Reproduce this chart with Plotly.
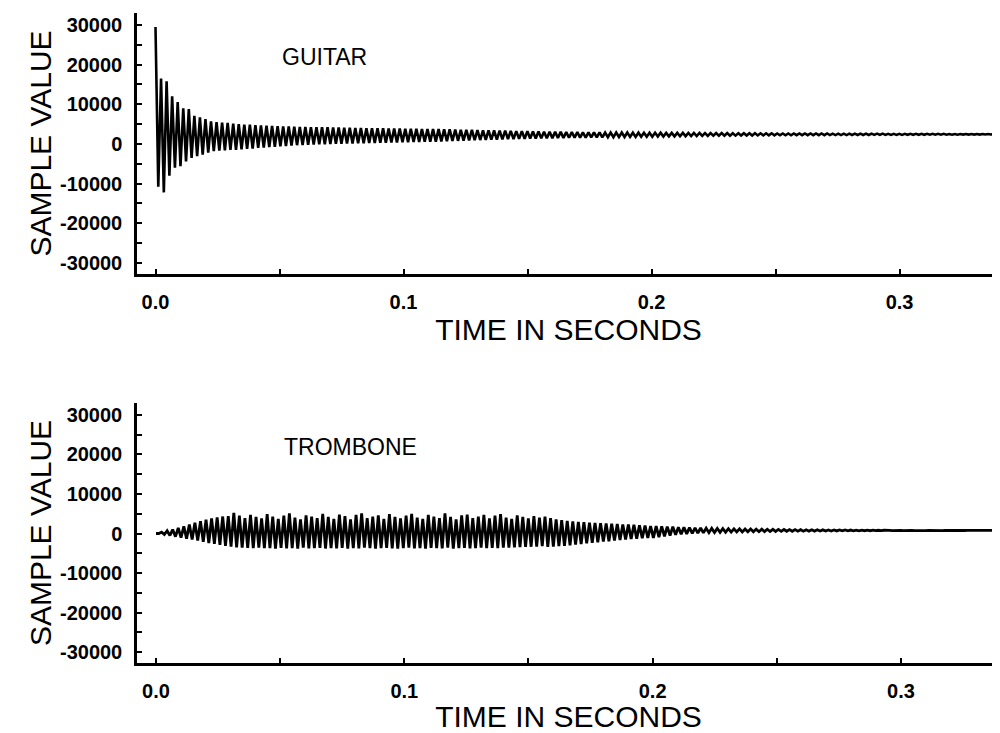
import plotly.graph_objects as go

# ---------------- data ----------------
cycle_period = 0.002238          # seconds per oscillation cycle
guitar_start = 0.0
trombone_start = 0.0

guitar_peaks = [
    29500, 16500, 15800, 12000, 10600, 9000, 8800, 7100, 6700, 6300,
    5700, 5500, 5400, 5300, 5100, 5000, 4900, 4850, 4750, 4700,
    4600, 4550, 4500, 4450, 4400, 4350, 4300, 4300, 4250, 4250,
    4200, 4200, 4150, 4150, 4100, 4100, 4050, 4050, 4000, 3950,
    3950, 3950, 3900, 3900, 3900, 3850, 3850, 3850, 3800, 3800,
    3800, 3750, 3700, 3700, 3650, 3600, 3600, 3550, 3500, 3450,
    3450, 3400, 3350, 3350, 3300, 3250, 3250, 3200, 3150, 3150,
    3100, 3100, 3050, 3050, 3000, 3000, 3000, 2950, 2950, 2950,
    2950, 2900, 2900, 2900, 2900, 2900, 2850, 2850, 2850, 2850,
    2850, 2850, 2800, 2800, 2800, 2800, 2800, 2800, 2800, 2750,
    2750, 2750, 2750, 2750, 2700, 2700, 2700, 2700, 2700, 2700,
    2700, 2700, 2650, 2650, 2650, 2650, 2650, 2650, 2650, 2650,
    2650, 2650, 2600, 2600, 2600, 2600, 2600, 2600, 2600, 2600,
    2600, 2600, 2550, 2550, 2550, 2550, 2550, 2550, 2550, 2550,
    2550, 2550, 2550, 2500, 2500, 2500, 2500, 2500, 2500, 2500,
    2500, 2500,
]
guitar_troughs = [
    -10800, -12200, -8000, -6000, -5600, -4400, -3500, -3100, -2700, -2200,
    -1800, -1700, -1600, -1500, -1450, -1350, -1250, -1150, -1000, -900,
    -800, -700, -600, -500, -400, -300, -250, -200, -150, -100,
    -50, 0, 30, 60, 100, 130, 170, 200, 230, 270,
    300, 330, 360, 390, 420, 450, 480, 510, 540, 570,
    600, 650, 700, 750, 800, 850, 900, 950, 1000, 1050,
    1090, 1130, 1170, 1210, 1250, 1290, 1330, 1370, 1400, 1430,
    1450, 1480, 1510, 1540, 1570, 1590, 1610, 1630, 1650, 1670,
    1690, 1710, 1730, 1750, 1770, 1790, 1800, 1820, 1840, 1850,
    1870, 1890, 1910, 1930, 1950, 1970, 1990, 2010, 2030, 2050,
    2070, 2080, 2090, 2100, 2110, 2120, 2130, 2140, 2150, 2160,
    2170, 2180, 2190, 2200, 2200, 2210, 2210, 2220, 2220, 2230,
    2230, 2240, 2240, 2250, 2250, 2260, 2260, 2270, 2270, 2280,
    2280, 2290, 2290, 2300, 2300, 2310, 2310, 2320, 2320, 2330,
    2330, 2340, 2340, 2350, 2350, 2360, 2360, 2370, 2370, 2380,
    2380, 2390,
]

trombone_peaks = [
    0, 350, 700, 1000, 1400, 1800, 2300, 2700, 3100, 3500,
    3800, 4100, 4300, 4400, 5200, 4500, 3900, 4700, 4200, 3800,
    4900, 4300, 3700, 4500, 5100, 4000, 3600, 4600, 4300, 3900,
    5000, 4200, 3700, 4800, 4400, 3600, 4700, 5100, 3900, 4300,
    4600, 3700, 4900, 4200, 3800, 4500, 5000, 4000, 3700, 4700,
    4300, 3900, 5100, 4200, 3600, 4600, 4800, 3900, 4300, 4700,
    3800, 4500, 4900, 4000, 3700, 4600, 4200, 3800, 4400, 4000,
    4300, 3900, 3600, 3400, 3200, 3050, 2950, 2850, 2750, 2650,
    2600, 2550, 2450, 2400, 2300, 2250, 2200, 2100, 2000, 1900,
    1850, 1800, 1750, 1700, 1600, 1550, 1500, 1450, 1400, 1350,
    1300, 1270, 1240, 1210, 1190, 1170, 1150, 1130, 1110, 1090,
    1070, 1050, 1030, 1010, 1000, 980, 960, 950, 940, 930,
    920, 910, 900, 890, 880, 870, 860, 850, 840, 830,
    820, 820, 810, 810, 800, 800, 800, 790, 790, 790,
    790, 790, 790, 790, 790, 790, 790, 790, 790, 790,
    790, 790,
]
trombone_troughs = [
    0, -250, -500, -800, -1050, -1300, -1500, -1800, -2100, -2400,
    -2600, -2850, -3100, -3300, -3500, -3600, -3650, -3700, -3600, -3700,
    -3700, -3800, -3650, -3750, -3700, -3800, -3600, -3750, -3700, -3650,
    -3800, -3700, -3750, -3650, -3800, -3700, -3750, -3600, -3700, -3800,
    -3700, -3650, -3750, -3800, -3700, -3600, -3750, -3700, -3800, -3650,
    -3700, -3750, -3600, -3800, -3700, -3650, -3750, -3700, -3600, -3700,
    -3650, -3700, -3600, -3550, -3500, -3450, -3400, -3350, -3300, -3200,
    -3400, -3300, -3200, -3100, -3000, -2800, -2650, -2500, -2350, -2200,
    -2050, -1950, -1800, -1650, -1500, -1400, -1300, -1200, -1150, -1100,
    -900, -700, -500, -300, -200, -100, 0, 80, 150, 200,
    240, 280, 320, 350, 380, 400, 420, 440, 460, 480,
    500, 520, 540, 560, 570, 580, 590, 600, 610, 620,
    630, 640, 650, 660, 670, 680, 690, 700, 700, 710,
    710, 720, 720, 730, 730, 740, 740, 740, 750, 750,
    750, 750, 760, 760, 760, 760, 770, 770, 770, 770,
    780, 780,
]

x_tick_vals = [0.0, 0.05, 0.1, 0.15, 0.2, 0.25, 0.3]
x_tick_text = ["0.0", "", "0.1", "", "0.2", "", "0.3"]
y_tick_vals = [30000, 25000, 20000, 15000, 10000, 5000, 0,
               -5000, -10000, -15000, -20000, -25000, -30000]
y_tick_text = ["30000", "", "20000", "", "10000", "", "0",
               "", "-10000", "", "-20000", "", "-30000"]

panel_labels = ["GUITAR", "TROMBONE"]
x_title = "TIME IN SECONDS"
y_title = "SAMPLE VALUE"


def waveform(start, peaks, troughs):
    t, v = [], []
    for k, (p, q) in enumerate(zip(peaks, troughs)):
        t += [start + k * cycle_period, start + (k + 0.5) * cycle_period]
        v += [p, q]
    return t, v


FONT = "Liberation Sans, Arial, Helvetica, sans-serif"

fig = go.Figure()
gt, gv = waveform(guitar_start, guitar_peaks, guitar_troughs)
tt, tv = waveform(trombone_start, trombone_peaks, trombone_troughs)
fig.add_trace(go.Scatter(x=gt, y=gv, mode="lines", line=dict(color="black", width=2.6),
                         xaxis="x", yaxis="y", hoverinfo="skip"))
fig.add_trace(go.Scatter(x=tt, y=tv, mode="lines", line=dict(color="black", width=2.8),
                         xaxis="x2", yaxis="y2", hoverinfo="skip"))


def xaxis_cfg(rng, anchor):
    return dict(
        domain=[0, 1], anchor=anchor, range=rng,
        showline=True, linecolor="black", linewidth=2.5,
        ticks="inside", ticklen=5, tickwidth=1.5, tickcolor="black",
        tickmode="array", tickvals=x_tick_vals, ticktext=x_tick_text,
        tickfont=dict(family=FONT, size=20, color="black", weight="bold"),
        ticklabelstandoff=8,
        showgrid=False, zeroline=False,
        title=dict(text=x_title, font=dict(family=FONT, size=30, color="black"), standoff=2),
    )


def yaxis_cfg(domain, anchor):
    return dict(
        domain=domain, anchor=anchor, range=[-32773, 33025],
        showline=True, linecolor="black", linewidth=2.5,
        ticks="inside", ticklen=5, tickwidth=1.5, tickcolor="black",
        tickmode="array", tickvals=y_tick_vals, ticktext=y_tick_text,
        tickfont=dict(family=FONT, size=20, color="black", weight="bold"),
        ticklabelstandoff=8,
        showgrid=False, zeroline=False,
        title=dict(text=y_title, font=dict(family=FONT, size=30, color="black"), standoff=0),
    )


fig.update_layout(
    width=992, height=725,
    margin=dict(l=129, r=0, t=5, b=70, autoexpand=False),
    paper_bgcolor="white", plot_bgcolor="white",
    showlegend=False,
    xaxis=xaxis_cfg([-0.00746, 0.3405], "y"),
    yaxis=yaxis_cfg([0.5985, 1.0], "x"),
    xaxis2=xaxis_cfg([-0.00766, 0.3399], "y2"),
    yaxis2=yaxis_cfg([0.0, 0.4], "x2"),
    annotations=[
        dict(text=panel_labels[0], x=0.0502, y=22000, xref="x", yref="y",
             xanchor="left", yanchor="middle", showarrow=False,
             font=dict(family=FONT, size=23, color="black")),
        dict(text=panel_labels[1], x=0.0508, y=22000, xref="x2", yref="y2",
             xanchor="left", yanchor="middle", showarrow=False,
             font=dict(family=FONT, size=23, color="black")),
    ],
)

fig.write_html("out.html")
